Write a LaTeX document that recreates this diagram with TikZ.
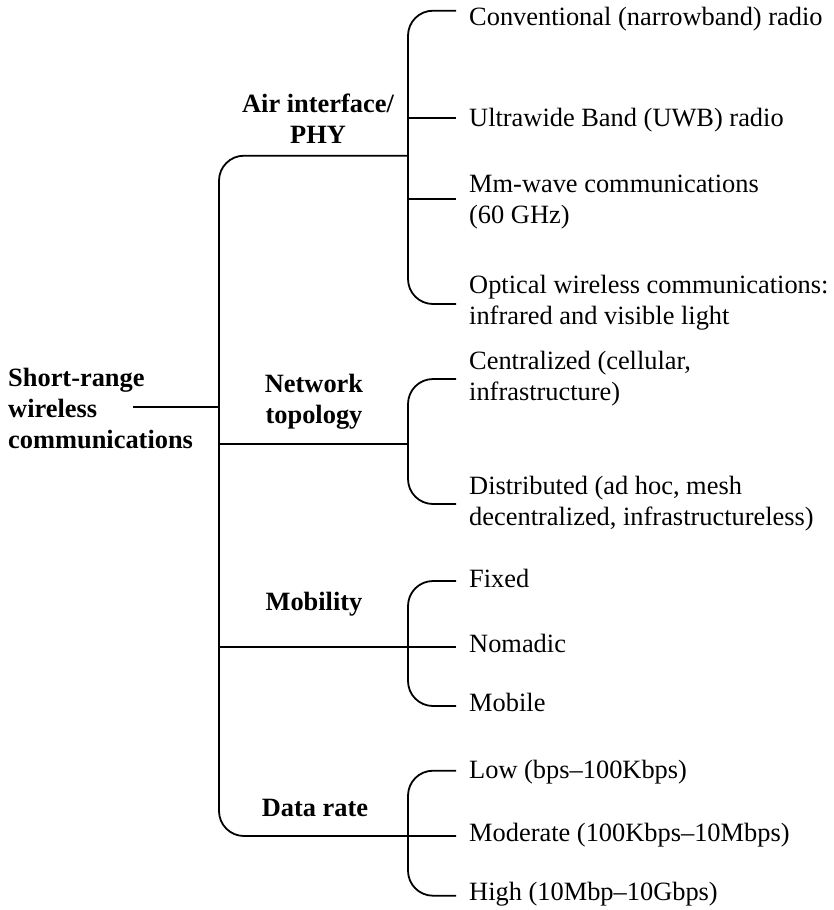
\documentclass[tikz,border=0pt]{standalone}
\usepackage{fontspec}
\setmainfont{Liberation Serif}
\begin{document}
\begin{tikzpicture}[x=1pt,y=-1pt,
  leaf/.style={anchor=base west, inner sep=0pt, align=left, font=\fontsize{26.4}{31}\selectfont},
  cat/.style={anchor=base, inner sep=0pt, align=center, font=\fontsize{26.4}{31}\selectfont\bfseries},
  rootlbl/.style={anchor=base west, inner sep=0pt, align=left, font=\fontsize{26.4}{31}\selectfont\bfseries},
  conn/.style={line width=1.8pt, rounded corners=25pt}]
\useasboundingbox (0,0) rectangle (834,910);

% root (base anchor = baseline of the last line)
\node[rootlbl] (root) at (8,448) {Short-range\\wireless\\communications};
% categories
\node[cat] (air) at (318,143) {Air interface/\\PHY};
\node[cat] (net) at (314,423) {Network\\topology};
\node[cat] (mob) at (314,610) {Mobility};
\node[cat] (rate) at (315,816) {Data rate};

% leaves
\node[leaf] (conv) at (469,25) {Conventional (narrowband) radio};
\node[leaf] (uwb) at (469,126) {Ultrawide Band (UWB) radio};
\node[leaf] (mmw) at (469,223) {Mm-wave communications\\(60 GHz)};
\node[leaf] (opt) at (469,324) {Optical wireless communications:\\infrared and visible light};
\node[leaf] (cen) at (469,400) {Centralized (cellular,\\infrastructure)};
\node[leaf] (dis) at (469,525) {Distributed (ad hoc, mesh\\decentralized, infrastructureless)};
\node[leaf] (fix) at (469,587) {Fixed};
\node[leaf] (nom) at (469,652) {Nomadic};
\node[leaf] (mobl) at (469,711) {Mobile};
\node[leaf] (low) at (469,778) {Low (bps--100Kbps)};
\node[leaf] (mod) at (469,841) {Moderate (100Kbps--10Mbps)};
\node[leaf] (high) at (469,900) {High (10Mbp--10Gbps)};

% coordinates
\coordinate (rootend) at (133,407);
\coordinate (trunkmid) at (219,407);
\coordinate (tAir) at (219,155.7);
\coordinate (tNet) at (219,444);
\coordinate (tMob) at (219,646.7);
\coordinate (tRate) at (219,836);
\coordinate (bAirTop) at (408,10.7);
\coordinate (bAirMid) at (408,155.7);
\coordinate (bAirBot) at (408,304);
\coordinate (bNetTop) at (408,379);
\coordinate (bNetMid) at (408,444);
\coordinate (bNetBot) at (408,504);
\coordinate (bMobTop) at (408,581);
\coordinate (bMobBot) at (408,706);
\coordinate (bRateTop) at (408,770.7);
\coordinate (bRateBot) at (408,895.7);
\coordinate (aConv) at (456,10.7);
\coordinate (aUwb) at (456,118);
\coordinate (aMmw) at (456,199);
\coordinate (aOpt) at (456,304);
\coordinate (aCen) at (456,379);
\coordinate (aDis) at (456,504);
\coordinate (aFix) at (456,581);
\coordinate (aNom) at (456,646.7);
\coordinate (aMobl) at (456,706);
\coordinate (aLow) at (456,770.7);
\coordinate (aMod) at (456,836);
\coordinate (aHigh) at (456,895.7);

% trunk
\draw[conn] (rootend) -- (trunkmid);
\draw[conn] (bAirMid) -- (tAir) -- (tRate) -- (aMod);
\draw[conn] (tNet) -- (bNetMid);
\draw[conn] (tMob) -- (aNom);

% brackets
\draw[conn] (aConv) -- (bAirTop) -- (bAirBot) -- (aOpt);
\draw[conn] (bAirTop |- aUwb) -- (aUwb);
\draw[conn] (bAirTop |- aMmw) -- (aMmw);
\draw[conn] (aCen) -- (bNetTop) -- (bNetBot) -- (aDis);
\draw[conn] (aFix) -- (bMobTop) -- (bMobBot) -- (aMobl);
\draw[conn] (aLow) -- (bRateTop) -- (bRateBot) -- (aHigh);
\end{tikzpicture}
\end{document}
